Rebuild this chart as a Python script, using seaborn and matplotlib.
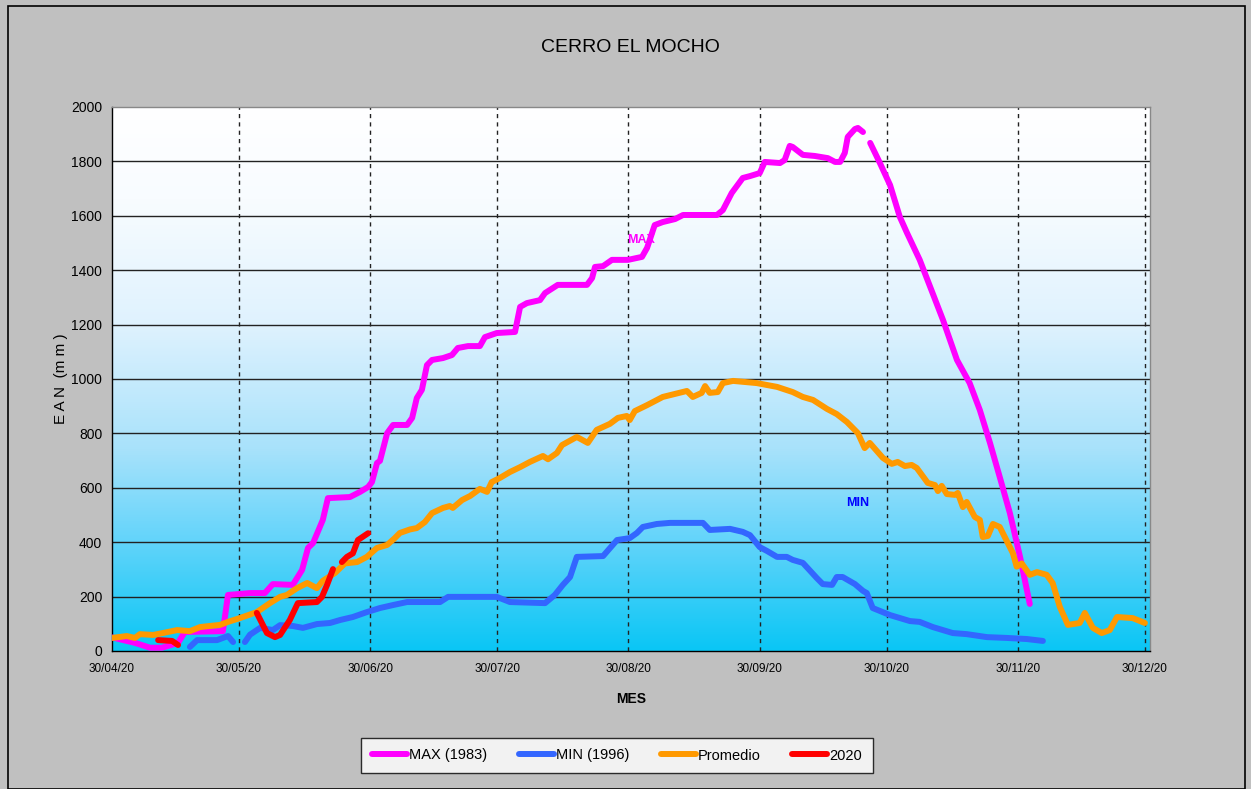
import numpy as np
import pandas as pd
import matplotlib
matplotlib.use("Agg")
import matplotlib.pyplot as plt
from matplotlib.colors import LinearSegmentedColormap
from matplotlib.lines import Line2D
from matplotlib.patches import Rectangle
import seaborn as sns

# days counted from 30/04/2020, NaN = gap in the record
max_days = [0, 5.4, 9, 11.8, 15.6, 17.2, 26.2, 27.4, 32.6, 36.1, 38, 42.7, 44.9, 46.3, 47.5,
            49.8, 51, 56.2, 58.6, 60.5, 61.4, 62.6, 63.3, 65, 66.4, 69.7, 70.9, 72, 73.2, 74.4,
            75.6, 78.2, 80.3, 81.7, 84.1, 86.9, 88.1, 90.9, 95.2, 96.4, 98, 101.1, 102.3, 105.3,
            112.2, 113.4, 114.1, 116, 118.1, 121.9, 125.2, 126.4, 128.2, 130.1, 133, 134.9,
            142.9, 144.3, 146.4, 149, 150.7, 153, 154.2, 157.8, 158.9, 160.1, 160.8, 163.2, 166,
            169.1, 170.8, 172, 173.1, 173.8, 175.5, 176.2, 177.4, 178.5, 179.1, 181.4, 183.8,
            186.1, 187.8, 190.8, 196.3, 199.6, 202.6, 205, 207.4, 209.7, 212.1, 214.5, 216.8]
max_vals = [50, 30, 12, 12, 30, 70, 73, 206, 213, 213, 246, 243, 298, 379, 397,
            482, 562, 566, 585, 603, 621, 691, 699, 801, 831, 831, 857, 930, 960, 1051,
            1070, 1077, 1088, 1114, 1121, 1121, 1154, 1169, 1173, 1265, 1279, 1290, 1316, 1346,
            1346, 1371, 1412, 1415, 1438, 1438, 1449, 1482, 1566, 1577, 1588, 1603,
            1603, 1621, 1684, 1739, 1746, 1757, 1798, 1794, 1805, 1857, 1853, 1824, 1820,
            1812, 1798, 1798, 1831, 1890, 1919, 1923, 1908, np.nan, 1868, 1794, 1713,
            1596, 1537, 1438, 1217, 1070, 985, 886, 765, 640, 507, 346, 173]

min_days = [18.4, 20.1, 24.8, 27.4, 28.6, 30, 31.4, 32.6, 35, 38, 39.7, 42.7, 45.1, 48.4, 51.5,
            53.9, 56.9, 60.2, 63.3, 66.4, 69.7, 77.5, 79.4, 90.9, 94, 102.3, 104.6, 106.5,
            108.2, 109.8, 116, 119.3, 122.3, 124, 125.4, 128.7, 131.8, 139.6, 141.2, 146, 149,
            150.7, 153, 154.7, 157.1, 159.4, 160.8, 163.2, 166.5, 167.9, 170.1, 171.2, 172.6,
            175.5, 177.4, 178.3, 179.7, 183.8, 188.5, 190.8, 193.9, 198.6, 201.9, 206.7, 211.4,
            216.1, 219.9]
min_vals = [15, 40, 40, 55, 33, np.nan, 33, 60, 85, 77, 95, 92, 85, 99, 103,
            114, 125, 143, 158, 169, 180, 180, 199, 199, 180, 176, 206, 243,
            272, 346, 349, 408, 415, 434, 456, 467, 471, 471, 445, 449, 438,
            426, 382, 368, 346, 346, 335, 324, 268, 246, 243, 272, 272,
            246, 221, 213, 158, 132, 110, 107, 88, 66, 62, 51, 48,
            44, 37]

prom_days = [0, 3.5, 5.4, 6.6, 9.7, 12, 15.4, 18.4, 20.8, 23.1, 25.5, 27.4, 30.2, 34.2, 37.3,
             39.7, 41.3, 43.7, 46.1, 48.4, 49.8, 52.7, 55, 57.9, 60.2, 62.6, 65, 66.8, 68, 70.4,
             72, 73.9, 75.6, 78.2, 79.8, 80.5, 82.7, 84.6, 86.9, 88.6, 89.7, 91.6, 94, 96.4, 98.7,
             101.8, 103, 105.1, 106.3, 109.8, 112.4, 114.5, 117.6, 119.5, 121.6, 122.3, 123.5,
             126.4, 130.1, 135.8, 137.2, 139.3, 140.1, 141.2, 143.1, 144.3, 146.7, 152.3, 157.1,
             160.8, 163.2, 165.6, 168.9, 171.2, 173.6, 176.2, 177.8, 179, 182.1, 184.2, 185.6,
             187.3, 188.9, 190.1, 192.7, 194.4, 195.1, 196, 197.2, 199.1, 199.8, 201, 201.9,
             203.8, 205, 205.7, 206.9, 208.1, 209.7, 212.8, 213.7, 214.9, 216.8, 218.5, 220.8,
             222.2, 223.9, 225.8, 228.6, 229.8, 231.7, 233.8, 235.7, 237.4, 241.1, 244]
prom_vals = [48, 55, 48, 62, 59, 66, 77, 73, 88, 92, 96, 107, 121, 143, 176,
             199, 206, 231, 250, 231, 258, 287, 322, 327, 346, 379, 390, 415, 434, 447,
             452, 474, 507, 526, 533, 526, 555, 570, 596, 585, 621, 636, 658, 676, 695,
             717, 705, 728, 757, 787, 765, 813, 835, 857, 864, 849, 882,
             904, 934, 956, 934, 949, 974, 949, 952, 985, 993, 985, 971,
             952, 934, 923, 890, 871, 842, 801, 746, 765, 710, 688, 695,
             680, 684, 673, 618, 610, 588, 607, 577, 574, 581, 529, 548,
             493, 482, 419, 423, 467, 456, 360, 310, 322, 280, 290, 280,
             250, 162, 96, 103, 140, 85, 66, 77, 125, 121, 103]

y2020_days = [10.9, 14.2, 15.6, 25, 34.2, 36.6, 38.5, 39.7, 42, 43.9, 48.4, 49.6, 50.8, 52.2,
              53.2, 54.3, 55.5, 56.9, 58.1, 60.5]
y2020_vals = [40, 37, 22, np.nan, 140, 66, 51, 59, 114, 176, 180, 199, 243, 301,
              np.nan, 327, 346, 359, 408, 433]

tick_days = [0, 30, 61, 91, 122, 153, 183, 214, 244]
tick_labels = ["30/04/20", "30/05/20", "30/06/20", "30/07/20", "30/08/20",
               "30/09/20", "30/10/20", "30/11/20", "30/12/20"]

series = [
    ("MAX (1983)", max_days, max_vals, "#ff00ff"),
    ("MIN (1996)", min_days, min_vals, "#3366ff"),
    ("Promedio", prom_days, prom_vals, "#ff9900"),
    ("2020", y2020_days, y2020_vals, "#ff0000"),
]

sns.set_style("white")
plt.rcParams["font.family"] = ["Liberation Sans", "DejaVu Sans"]
for key in ["text.color", "axes.labelcolor", "xtick.color", "ytick.color"]:
    plt.rcParams[key] = "black"

fig = plt.figure(figsize=(12.51, 7.89), dpi=100, facecolor="#c0c0c0")
fig.patches.append(Rectangle((8 / 1251, 0), 1237 / 1251, 783 / 789, transform=fig.transFigure,
                             fill=False, edgecolor="black", linewidth=1.2))
ax = fig.add_axes([112 / 1251, 1 - 651 / 789, 1038 / 1251, 544 / 789])

xmax = 245.2
grad = LinearSegmentedColormap.from_list(
    "bg", [(0, "#0ac6f5"), (0.2, "#62d4fa"), (0.37, "#a8e2fb"), (0.6, "#dff2fe"),
           (0.83, "#f8fcff"), (1, "#ffffff")])
ax.imshow(np.linspace(0, 1, 256).reshape(-1, 1), cmap=grad, origin="lower", aspect="auto",
          extent=[0, xmax, 0, 2000], zorder=0)

for y in range(200, 2000, 200):
    ax.axhline(y, color="#222222", lw=1, zorder=1)
for d in tick_days[1:]:
    ax.axvline(d, color="#222222", lw=1, ls=(0, (3, 3)), zorder=1)


def segments(days, vals):
    df = pd.DataFrame({"d": days, "v": vals})
    grp = df["v"].isna().cumsum()
    for _, seg in df.groupby(grp):
        seg = seg.dropna()
        if len(seg) > 1:
            yield seg


for name, days, vals, color in series:
    for seg in segments(days, vals):
        sns.lineplot(data=seg, x="d", y="v", color=color, lw=4.3, ax=ax, sort=False,
                     estimator=None, legend=False, zorder=3, solid_capstyle="round")

ax.text(124.9, 1511, "MAX", color="#ff00ff", fontsize=9, fontweight="bold",
        ha="center", va="center", zorder=4)
ax.text(176.2, 544, "MIN", color="#0000ff", fontsize=9, fontweight="bold",
        ha="center", va="center", zorder=4)

ax.set_xlim(0, xmax)
ax.set_ylim(0, 2000)
ax.set_yticks(range(0, 2001, 200))
ax.set_xticks(tick_days)
ax.set_xticklabels(tick_labels)
ax.tick_params(axis="x", labelsize=8.5, direction="out", length=5, width=1, color="black", pad=4)
ax.tick_params(axis="y", labelsize=10, direction="out", length=5, width=1, color="black", pad=2)
ax.set_xlabel("MES", fontsize=10, fontweight="bold", labelpad=12)
ax.set_ylabel("E A N  (m m )", fontsize=11, labelpad=2)
for side in ["left", "bottom"]:
    ax.spines[side].set_color("black")
    ax.spines[side].set_linewidth(1)
for side in ["top", "right"]:
    ax.spines[side].set_color("#888888")
    ax.spines[side].set_linewidth(1)

fig.text(630 / 1251, 1 - 47 / 789, "CERRO EL MOCHO", fontsize=14, ha="center", va="center")

handles = [Line2D([0], [0], color=c, lw=4.3, solid_capstyle="round") for _, _, _, c in series]
labels = [n for n, _, _, _ in series]
leg = fig.legend(handles, labels, loc="center", bbox_to_anchor=(617 / 1251, 1 - 755.5 / 789),
                 ncol=4, fontsize=10.5, frameon=True, fancybox=False, edgecolor="black",
                 facecolor="white", handlelength=2.4, handletextpad=0.1, columnspacing=2.2,
                 borderpad=0.75)
leg.get_frame().set_linewidth(1)

fig.savefig("out.png", dpi=100, facecolor=fig.get_facecolor())
